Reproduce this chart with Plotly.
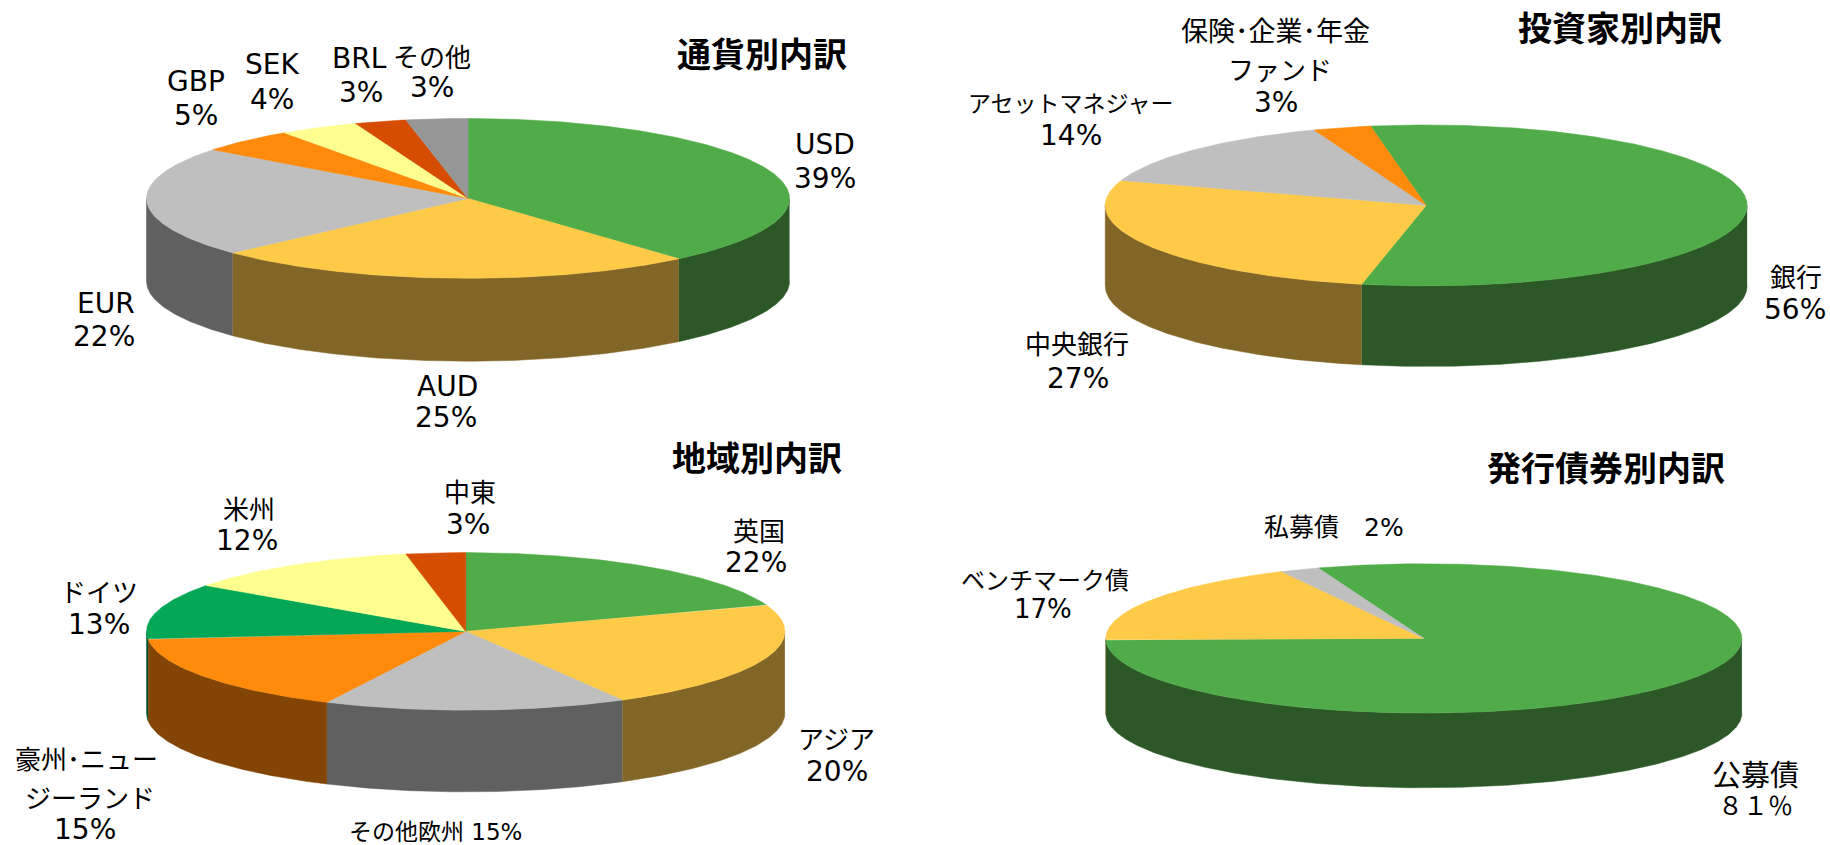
import numpy as np
import plotly.graph_objects as go

# ---------- data ----------
currency_labels = ["USD", "AUD", "EUR", "GBP", "SEK", "BRL", "その他"]
currency_shares = [38.7, 24.5, 22.4, 4.9, 4.0, 2.6, 3.1]
currency_pct = ["39%", "25%", "22%", "5%", "4%", "3%", "3%"]

investor_labels = ["銀行", "中央銀行", "アセットマネジャー", "保険･企業･年金ファンド"]
investor_shares = [56.0, 26.8, 14.3, 2.9]
investor_pct = ["56%", "27%", "14%", "3%"]

region_labels = ["英国", "アジア", "その他欧州", "豪州･ニュージーランド", "ドイツ", "米州", "中東"]
region_shares = [19.5, 22.3, 15.3, 16.2, 11.5, 12.1, 3.0]
region_pct = ["22%", "20%", "15%", "15%", "13%", "12%", "3%"]

bond_labels = ["公募債", "ベンチマーク債", "私募債"]
bond_shares = [80.0, 18.0, 2.0]
bond_pct = ["８１％", "17%", "2%"]

# ---------- styles ----------
GREEN = ("#50AC48", "#2B5826")
YELLOW = ("#FFCA47", "#826627")
GRAY = ("#BFBFBF", "#606060")
ORANGE = ("#FF8A0B", "#824505")
PALE = ("#FFFF8F", "#80804A")
RED = ("#D44D00", "#6A2700")
MID = ("#969696", "#4B4B4B")
DGREEN = ("#04A755", "#02542B")

S = 1830 / 1568  # layout positions below are given in the 1568-wide view


def P(v):
    return v * S


pies = [
    dict(title="通貨別内訳", tpos=(653, 45), c=(401, 170), r=(275.5, 68.5), d=71, start=0,
         shares=currency_shares, colors=[GREEN, YELLOW, GRAY, ORANGE, PALE, RED, MID]),
    dict(title="投資家別内訳", tpos=(1388, 23), c=(1222, 176), r=(275, 69), d=69, start=-10,
         shares=investor_shares, colors=[GREEN, YELLOW, GRAY, ORANGE]),
    dict(title="地域別内訳", tpos=(649, 391), c=(399, 541), r=(273.5, 67.5), d=70, start=0,
         shares=region_shares, colors=[GREEN, YELLOW, GRAY, ORANGE, DGREEN, PALE, RED]),
    dict(title="発行債券別内訳", tpos=(1376, 400), c=(1220, 547), r=(272.5, 64), d=64, start=-19.4,
         shares=bond_shares, colors=[GREEN, YELLOW, GRAY]),
]

LAT = 28  # size of the latin/percent labels
# text, x, y, size – positions of label lines
label_lines = [
    (currency_labels[0], 707, 124, LAT), (currency_pct[0], 707, 153, LAT),
    (currency_labels[1], 383, 331, LAT), (currency_pct[1], 382, 358, LAT),
    (currency_labels[2], 91, 260, LAT), (currency_pct[2], 89, 288, LAT),
    (currency_labels[3], 168, 70, LAT), (currency_pct[3], 168, 99, LAT),
    (currency_labels[4], 233, 55, LAT), (currency_pct[4], 233, 85, LAT),
    (currency_labels[5], 308, 50, LAT), (currency_pct[5], 309, 79, LAT),
    (currency_labels[6], 370, 50, 26), (currency_pct[6], 370, 75, LAT),
    ("保険･企業･年金", 1093, 27, 27), ("ファンド", 1097, 61, 26), (investor_pct[3], 1093, 88, LAT),
    (investor_labels[2], 917, 89, 23), (investor_pct[2], 918, 116, LAT),
    (investor_labels[0], 1539, 238, 26), (investor_pct[0], 1538, 265, LAT),
    (investor_labels[1], 923, 296, 26), (investor_pct[1], 924, 324, LAT),
    (region_labels[0], 650, 456, 26), (region_pct[0], 648, 482, LAT),
    (region_labels[1], 717, 634, 26), (region_pct[1], 717, 661, LAT),
    (region_labels[2] + " " + region_pct[2], 373, 713, 23),
    ("豪州･ニュー", 74, 651, 26), ("ジーランド", 77, 685, 26), (region_pct[3], 73, 711, LAT),
    (region_labels[4], 85, 508, 26), (region_pct[4], 85, 535, LAT),
    (region_labels[5], 213, 437, 26), (region_pct[5], 212, 463, LAT),
    (region_labels[6], 403, 422, 26), (region_pct[6], 401, 449, LAT),
    (bond_labels[2] + "　" + bond_pct[2], 1143, 452, 25),
    (bond_labels[1], 895, 498, 24), (bond_pct[1], 894, 522, 26),
    (bond_labels[0], 1504, 665, 29), (bond_pct[0], 1504, 691, 25),
]

FONT = "DejaVu Sans, Noto Sans CJK JP, sans-serif"
TITLE_FONT = "Noto Sans CJK JP, sans-serif"


def rim(cx, cy, rx, ry, a, b, dy=0.0):
    t = np.radians(np.linspace(a, b, max(int(abs(b - a) * 2), 2)))
    return cx + rx * np.sin(t), cy - ry * np.cos(t) + dy


fig = go.Figure()


def add_poly(x, y, color):
    fig.add_trace(go.Scatter(x=list(x), y=list(y), mode="lines", fill="toself",
                             fillcolor=color, line=dict(width=0.5, color=color),
                             hoverinfo="skip", showlegend=False))


for pie in pies:
    cx, cy = P(pie["c"][0]), P(pie["c"][1])
    rx, ry = P(pie["r"][0]), P(pie["r"][1])
    depth = P(pie["d"])
    total = sum(pie["shares"])
    edges = pie["start"] + np.concatenate([[0], np.cumsum(pie["shares"])]) * 360 / total
    # rim sides first, only the front half of the disc is visible
    for i, (_, dark) in enumerate(pie["colors"]):
        a, b = edges[i], edges[i + 1]
        for lo, hi in ((90, 270), (450, 630)):
            s, e = max(a, lo), min(b, hi)
            if e > s:
                xt, yt = rim(cx, cy, rx, ry, s, e)
                xb, yb = rim(cx, cy, rx, ry, s, e, depth)
                add_poly(np.r_[xt, xb[::-1]], np.r_[yt, yb[::-1]], dark)
    # top wedges
    for i, (light, _) in enumerate(pie["colors"]):
        xt, yt = rim(cx, cy, rx, ry, edges[i], edges[i + 1])
        add_poly(np.r_[cx, xt, cx], np.r_[cy, yt, cy], light)

annotations = []
for text, x, y, size in label_lines:
    annotations.append(dict(x=P(x), y=P(y), text=text, showarrow=False, xref="x", yref="y",
                            xanchor="center", yanchor="middle",
                            font=dict(family=FONT, size=size, color="#000000")))
for pie in pies:
    annotations.append(dict(x=P(pie["tpos"][0]), y=P(pie["tpos"][1]), text="<b>" + pie["title"] + "</b>",
                            showarrow=False, xref="x", yref="y", xanchor="center", yanchor="middle",
                            font=dict(family=TITLE_FONT, size=34, color="#000000")))

fig.update_layout(
    width=1830, height=845, autosize=False,
    margin=dict(l=0, r=0, t=0, b=0),
    paper_bgcolor="#FFFFFF", plot_bgcolor="#FFFFFF",
    xaxis=dict(range=[0, 1830], visible=False, fixedrange=True),
    yaxis=dict(range=[845, 0], visible=False, fixedrange=True),
    annotations=annotations,
    showlegend=False,
)
fig.write_html("out.html", config={"displayModeBar": False},
               post_script="document.body.style.margin='0';document.documentElement.style.overflow='hidden';")
